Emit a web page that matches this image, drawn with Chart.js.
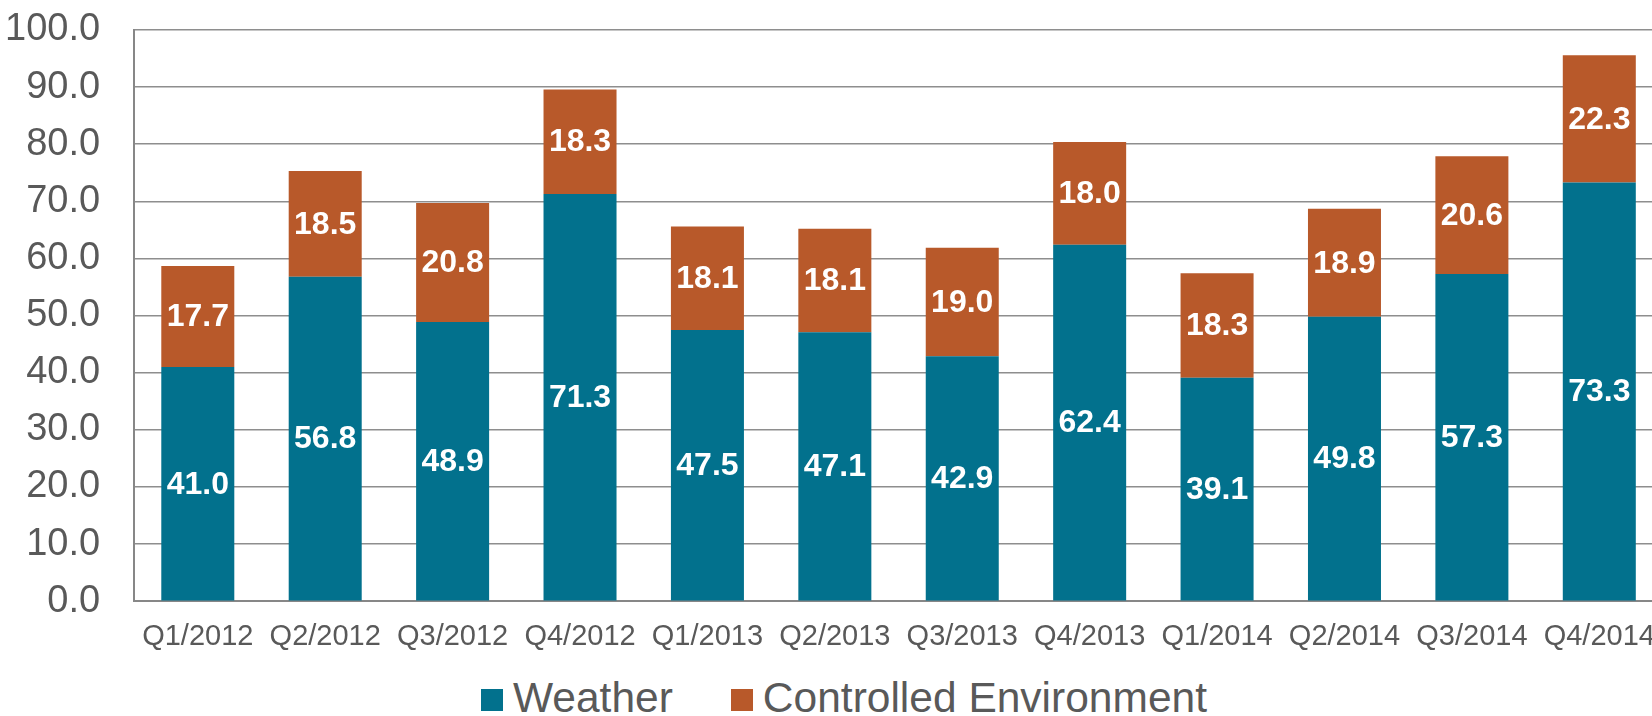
<!DOCTYPE html>
<html>
<head>
<meta charset="utf-8">
<script src="https://cdn.jsdelivr.net/npm/chart.js@4.4.0/dist/chart.umd.min.js"></script>
<style>
  body { margin: 0; background: #fff; overflow: hidden; width: 1652px; height: 716px; position: relative; }
  #wrap { position: absolute; left: 0; top: 0; width: 1663px; height: 667px; }
  #legend { position: absolute; left: 0; top: 676px; width: 1652px; height: 44px; box-sizing: border-box; padding-left: 36px;
            display: flex; justify-content: center; align-items: center;
            font-family: 'Liberation Sans', Arial, sans-serif; font-size: 42.5px; color: #595959; }
  #legend .item { display: flex; align-items: center; }
  #legend .item + .item { margin-left: 58px; }
  #legend .box { width: 22px; height: 22px; margin-right: 10px; margin-top: 4px; }
</style>
</head>
<body>
<div id="wrap"><canvas id="chart"></canvas></div>
<div id="legend"></div>
<script>
var quarters = ['Q1/2012', 'Q2/2012', 'Q3/2012', 'Q4/2012', 'Q1/2013', 'Q2/2013', 'Q3/2013', 'Q4/2013', 'Q1/2014', 'Q2/2014', 'Q3/2014', 'Q4/2014'];
var weather = [41.0, 56.8, 48.9, 71.3, 47.5, 47.1, 42.9, 62.4, 39.1, 49.8, 57.3, 73.3];
var controlled = [17.7, 18.5, 20.8, 18.3, 18.1, 18.1, 19.0, 18.0, 18.3, 18.9, 20.6, 22.3];
var seriesNames = ['Weather', 'Controlled Environment'];
var seriesColors = ['#02718d', '#b8592a'];

var fontFam = "'Liberation Sans', Arial, sans-serif";

// white value labels in the middle of each bar segment
var valueLabels = {
  id: 'valueLabels',
  afterDatasetsDraw: function(chart) {
    var ctx = chart.ctx;
    ctx.save();
    ctx.fillStyle = '#ffffff';
    ctx.font = 'bold 32px ' + fontFam;
    ctx.textAlign = 'center';
    ctx.textBaseline = 'middle';
    chart.data.datasets.forEach(function(ds, i) {
      var meta = chart.getDatasetMeta(i);
      meta.data.forEach(function(bar, j) {
        ctx.fillText(ds.data[j].toFixed(1), bar.x, (bar.y + bar.base) / 2 + 1);
      });
    });
    ctx.restore();
  }
};

var data = {
  labels: quarters,
  datasets: [
    { label: seriesNames[0], data: weather, backgroundColor: seriesColors[0] },
    { label: seriesNames[1], data: controlled, backgroundColor: seriesColors[1] }
  ]
};

var options = {
  responsive: true,
  maintainAspectRatio: false,
  animation: false,
  layout: { padding: { top: 30, left: 1, right: 0, bottom: 9 } },
  datasets: { bar: { categoryPercentage: 1.0, barPercentage: 0.573 } },
  plugins: {
    legend: { display: false },
    tooltip: { enabled: false }
  },
  scales: {
    x: {
      stacked: true,
      // invisible tick marks give the gap under the axis
      grid: { display: false, drawTicks: true, tickLength: 14, tickColor: 'rgba(0,0,0,0)' },
      border: { display: true, color: '#878787', width: 2 },
      ticks: { color: '#595959', font: { family: fontFam, size: 29 }, padding: 4, maxRotation: 0, autoSkip: false }
    },
    y: {
      stacked: true,
      min: 0,
      max: 100,
      grid: { color: '#8e8e8e', lineWidth: 1.5, drawTicks: true, tickLength: 30, tickColor: 'rgba(0,0,0,0)' },
      border: { display: true, color: '#878787', width: 2 },
      ticks: {
        stepSize: 10,
        color: '#595959',
        font: { family: fontFam, size: 38 },
        padding: 4,
        callback: function(v) { return v.toFixed(1); }
      }
    }
  }
};

var ctx = document.getElementById('chart');
var myChart = new Chart(ctx, { type: 'bar', data: data, options: options, plugins: [valueLabels] });

// legend below the canvas
var legend = document.getElementById('legend');
seriesNames.forEach(function(name, i) {
  var item = document.createElement('div');
  item.className = 'item';
  var box = document.createElement('span');
  box.className = 'box';
  box.style.background = seriesColors[i];
  var txt = document.createElement('span');
  txt.textContent = name;
  item.appendChild(box);
  item.appendChild(txt);
  legend.appendChild(item);
});
</script>
</body>
</html>
